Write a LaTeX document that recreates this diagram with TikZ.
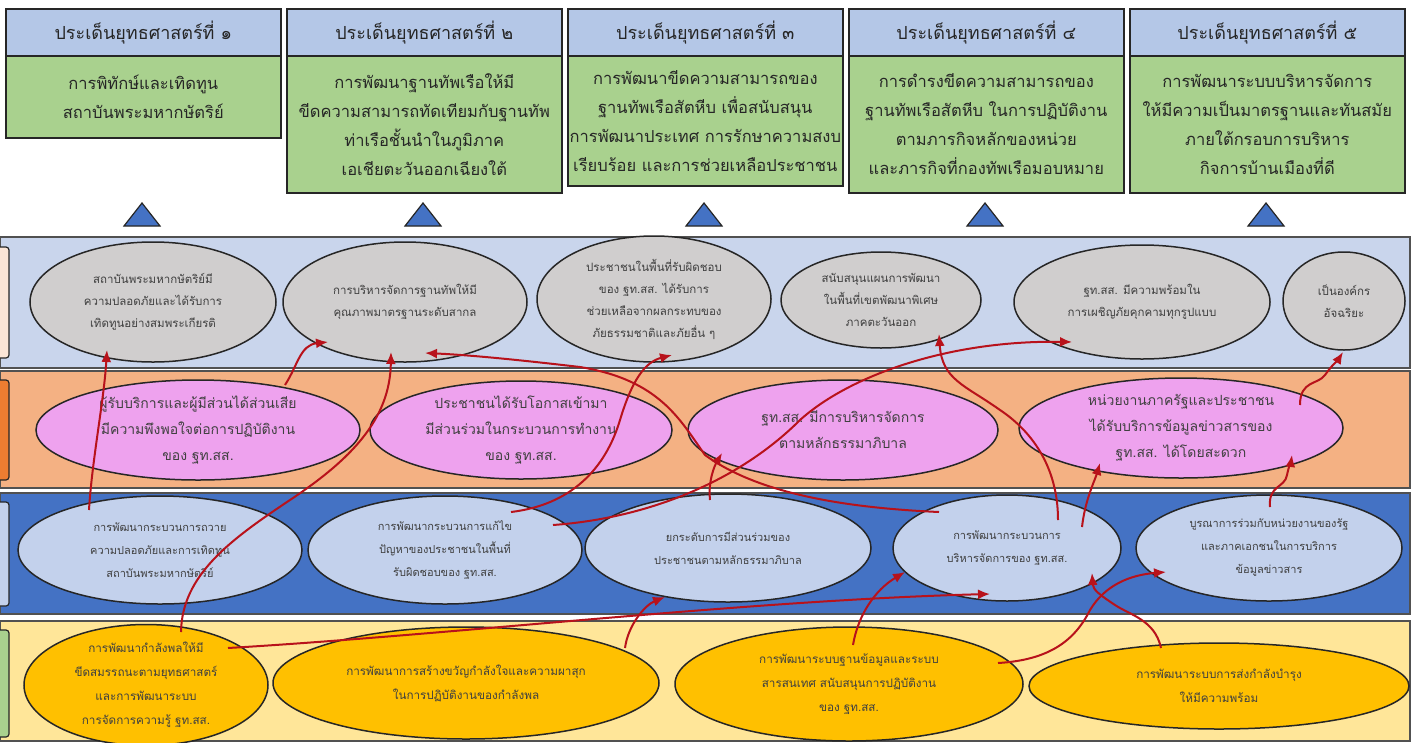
\documentclass[tikz,border=0pt]{standalone}
\usepackage{fontspec}
\newfontfamily\thaifont[Script=Thai]{Loma}
\usetikzlibrary{shapes.geometric,arrows.meta,calc}
\definecolor{hdrblue}{HTML}{B4C7E7}
\definecolor{boxgreen}{HTML}{A9D18E}
\definecolor{bandA}{HTML}{C9D5EC}
\definecolor{bandB}{HTML}{F4B183}
\definecolor{bandC}{HTML}{4472C4}
\definecolor{bandD}{HTML}{FFE699}
\definecolor{tabA}{HTML}{FBE5D6}
\definecolor{tabB}{HTML}{ED7D31}
\definecolor{tabC}{HTML}{C3D1EC}
\definecolor{tabD}{HTML}{A9D18E}
\definecolor{ellA}{HTML}{D0CECE}
\definecolor{ellB}{HTML}{EEA2EE}
\definecolor{ellC}{HTML}{C3D1EC}
\definecolor{ellD}{HTML}{FFC000}
\definecolor{arrred}{HTML}{B8121B}
\definecolor{txtgray}{HTML}{404040}
\definecolor{edge}{HTML}{262626}
\begin{document}
\begin{tikzpicture}[x=1pt,y=-1pt,
  hdr/.style={draw=edge,line width=1.6pt,fill=hdrblue,anchor=north west,minimum width=275pt,minimum height=47pt,inner sep=0pt,font=\thaifont\fontsize{18}{28}\selectfont,text=black!85},
  bodybox/.style={draw=edge,line width=1.6pt,fill=boxgreen,anchor=north west,minimum width=275pt,inner sep=0pt,align=center,font=\thaifont\fontsize{16.5}{29}\selectfont,text=black!85},
  band/.style={draw=edge!80,line width=1.4pt},
  tabbox/.style={draw=edge,line width=1.2pt,rounded corners=3pt},
  ell/.style={ellipse,draw=edge,line width=1.5pt,inner sep=0pt,align=center,text=txtgray},
  eA/.style={ell,fill=ellA,font=\thaifont\fontsize{11.5}{22}\selectfont},
  eB/.style={ell,fill=ellB,font=\thaifont\fontsize{14}{26}\selectfont,text=black!75},
  eC/.style={ell,fill=ellC,font=\thaifont\fontsize{11}{23}\selectfont},
  eD/.style={ell,fill=ellD,font=\thaifont\fontsize{11.7}{24}\selectfont},
  tri/.style={draw=edge,line width=1.2pt,fill=bandC},
  arr/.style={draw=arrred,line width=2pt,-{Latex[length=12pt,width=10pt]}}
]
\useasboundingbox (0,0) rectangle (1412,742);
\fill[white] (0,0) rectangle (1412,742);
% headers
\node[hdr] (h1) at (5,8) {ประเด็นยุทธศาสตร์ที่ ๑};
\node[hdr] (h2) at (286,8) {ประเด็นยุทธศาสตร์ที่ ๒};
\node[hdr] (h3) at (567,8) {ประเด็นยุทธศาสตร์ที่ ๓};
\node[hdr] (h4) at (848,8) {ประเด็นยุทธศาสตร์ที่ ๔};
\node[hdr] (h5) at (1129,8) {ประเด็นยุทธศาสตร์ที่ ๕};
\node[bodybox,minimum height=82pt] (b1) at (5,55) {การพิทักษ์และเทิดทูน\\สถาบันพระมหากษัตริย์};
\node[bodybox,minimum height=137pt] (b2) at (286,55) {การพัฒนาฐานทัพเรือให้มี\\ขีดความสามารถทัดเทียมกับฐานทัพ\\ท่าเรือชั้นนำในภูมิภาค\\เอเชียตะวันออกเฉียงใต้};
\node[bodybox,minimum height=130pt] (b3) at (567,55) {การพัฒนาขีดความสามารถของ\\ฐานทัพเรือสัตหีบ เพื่อสนับสนุน\\การพัฒนาประเทศ การรักษาความสงบ\\เรียบร้อย และการช่วยเหลือประชาชน};
\node[bodybox,minimum height=137pt] (b4) at (848,55) {การดำรงขีดความสามารถของ\\ฐานทัพเรือสัตหีบ ในการปฏิบัติงาน\\ตามภารกิจหลักของหน่วย\\และภารกิจที่กองทัพเรือมอบหมาย};
\node[bodybox,minimum height=137pt] (b5) at (1129,55) {การพัฒนาระบบบริหารจัดการ\\ให้มีความเป็นมาตรฐานและทันสมัย\\ภายใต้กรอบการบริหาร\\กิจการบ้านเมืองที่ดี};
% triangles
\foreach \cx in {142,423,704,985,1266}{
  \draw[tri] (\cx-18,226) -- (\cx+18,226) -- (\cx,203) -- cycle;
}
% bands
\draw[band,fill=bandA] (0,237) rectangle (1410,368);
\draw[band,fill=bandB] (0,371) rectangle (1410,488);
\draw[band,fill=bandC] (0,493) rectangle (1410,614);
\draw[band,fill=bandD] (0,621) rectangle (1410,741);
\draw[tabbox,fill=tabA] (-4,247) rectangle (9,358);
\draw[tabbox,fill=tabB] (-4,380) rectangle (9,480);
\draw[tabbox,fill=tabC] (-4,502) rectangle (9,606);
\draw[tabbox,fill=tabD] (-4,630) rectangle (9,737);
% row 1
\node[eA,minimum width=246pt,minimum height=120pt] (e1a) at (153,302) {สถาบันพระมหากษัตริย์มี\\ความปลอดภัยและได้รับการ\\เทิดทูนอย่างสมพระเกียรติ};
\node[eA,minimum width=244pt,minimum height=120pt] (e1b) at (405,302) {การบริหารจัดการฐานทัพให้มี\\คุณภาพมาตรฐานระดับสากล};
\node[eA,minimum width=234pt,minimum height=126pt] (e1c) at (654,299) {ประชาชนในพื้นที่รับผิดชอบ\\ของ ฐท.สส. ได้รับการ\\ช่วยเหลือจากผลกระทบของ\\ภัยธรรมชาติและภัยอื่น ๆ};
\node[eA,minimum width=200pt,minimum height=96pt] (e1d) at (881,300) {สนับสนุนแผนการพัฒนา\\ในพื้นที่เขตพัฒนาพิเศษ\\ภาคตะวันออก};
\node[eA,minimum width=256pt,minimum height=114pt] (e1e) at (1142,302) {ฐท.สส. มีความพร้อมใน\\การเผชิญภัยคุกคามทุกรูปแบบ};
\node[eA,minimum width=122pt,minimum height=98pt] (e1f) at (1344,301) {เป็นองค์กร\\อัจฉริยะ};
% row 2
\node[eB,minimum width=324pt,minimum height=100pt] (e2a) at (198,430) {ผู้รับบริการและผู้มีส่วนได้ส่วนเสีย\\มีความพึงพอใจต่อการปฏิบัติงาน\\ของ ฐท.สส.};
\node[eB,minimum width=302pt,minimum height=98pt] (e2b) at (521,430) {ประชาชนได้รับโอกาสเข้ามา\\มีส่วนร่วมในกระบวนการทำงาน\\ของ ฐท.สส.};
\node[eB,minimum width=310pt,minimum height=100pt] (e2c) at (843,430) {ฐท.สส. มีการบริหารจัดการ\\ตามหลักธรรมาภิบาล};
\node[eB,minimum width=324pt,minimum height=100pt] (e2d) at (1181,428) {หน่วยงานภาครัฐและประชาชน\\ได้รับบริการข้อมูลข่าวสารของ\\ฐท.สส. ได้โดยสะดวก};
% row 3
\node[eC,minimum width=284pt,minimum height=108pt] (e3a) at (160,550) {การพัฒนากระบวนการถวาย\\ความปลอดภัยและการเทิดทูน\\สถาบันพระมหากษัตริย์};
\node[eC,minimum width=274pt,minimum height=108pt] (e3b) at (445,550) {การพัฒนากระบวนการแก้ไข\\ปัญหาของประชาชนในพื้นที่\\รับผิดชอบของ ฐท.สส.};
\node[eC,minimum width=286pt,minimum height=108pt] (e3c) at (728,548) {ยกระดับการมีส่วนร่วมของ\\ประชาชนตามหลักธรรมาภิบาล};
\node[eC,minimum width=228pt,minimum height=106pt] (e3d) at (1007,548) {การพัฒนากระบวนการ\\บริหารจัดการของ ฐท.สส.};
\node[eC,minimum width=266pt,minimum height=106pt] (e3e) at (1269,548) {บูรณาการร่วมกับหน่วยงานของรัฐ\\และภาคเอกชนในการบริการ\\ข้อมูลข่าวสาร};
% row 4
\node[eD,minimum width=244pt,minimum height=110pt] (e4a) at (146,685) {การพัฒนากำลังพลให้มี\\ขีดสมรรถนะตามยุทธศาสตร์\\และการพัฒนาระบบ\\การจัดการความรู้ ฐท.สส.};
\node[eD,minimum width=386pt,minimum height=112pt] (e4b) at (466,683) {การพัฒนาการสร้างขวัญกำลังใจและความผาสุก\\ในการปฏิบัติงานของกำลังพล};
\node[eD,minimum width=348pt,minimum height=114pt] (e4c) at (849,684) {การพัฒนาระบบฐานข้อมูลและระบบ\\สารสนเทศ สนับสนุนการปฏิบัติงาน\\ของ ฐท.สส.};
\node[eD,minimum width=380pt,minimum height=86pt] (e4d) at (1219,686) {การพัฒนาระบบการส่งกำลังบำรุง\\ให้มีความพร้อม};
% arrows
\draw[arr] ($(e3a)+(-71,-40)$) .. controls (92,460) and (104,400) .. ($(e1a)+(-46,48)$);
\draw[arr] ($(e2a)+(87,-45)$) .. controls (298,365) and (300,345) .. ($(e1b)+(-77,40)$);
\draw[arr] ($(e4a)+(35,-53)$) .. controls (182,575) and (230,540) .. (290,500) .. controls (350,460) and (390,420) .. ($(e1b)+(-14,50)$);
\draw[arr] ($(e3d)+(-68,-36)$) .. controls (850,508) and (760,495) .. (705,455) .. controls (680,420) and (660,380) .. (580,367) .. controls (520,360) and (470,355) .. ($(e1b)+(20,51)$);
\draw[arr] ($(e3b)+(66,-38)$) .. controls (570,505) and (605,470) .. (620,420) .. controls (632,380) and (645,362) .. ($(e1c)+(18,56)$);
\draw[arr] ($(e3b)+(108,-25)$) .. controls (650,518) and (740,480) .. (800,420) .. controls (850,375) and (950,340) .. ($(e1e)+(-70,40)$);
\draw[arr] ($(e3c)+(-18,-48)$) .. controls (708,480) and (715,465) .. ($(e2c)+(-121,23)$);
\draw[arr] ($(e3d)+(51,-28)$) .. controls (1058,465) and (1030,430) .. (1000,410) .. controls (965,385) and (942,380) .. ($(e1d)+(58,34)$);
\draw[arr] ($(e3d)+(75,-21)$) .. controls (1085,500) and (1095,480) .. ($(e2d)+(-81,35)$);
\draw[arr] ($(e3e)+(1,-41)$) .. controls (1268,485) and (1285,488) .. (1287,475) .. controls (1289,465) and (1291,462) .. ($(e2d)+(111,27)$);
\draw[arr] ($(e2d)+(119,-23)$) .. controls (1300,380) and (1318,385) .. (1325,375) .. controls (1332,365) and (1338,360) .. ($(e1f)+(-1,51)$);
\draw[arr] ($(e4a)+(82,-37)$) .. controls (450,635) and (750,600) .. ($(e3d)+(-17,46)$);
\draw[arr] ($(e4b)+(159,-35)$) .. controls (628,625) and (645,605) .. ($(e3c)+(-63,49)$);
\draw[arr] ($(e4c)+(4,-39)$) .. controls (858,615) and (875,590) .. ($(e3d)+(-102,24)$);
\draw[arr] ($(e4c)+(149,-21)$) .. controls (1050,660) and (1075,640) .. (1090,610) .. controls (1105,585) and (1130,575) .. ($(e3e)+(-103,24)$);
\draw[arr] ($(e4d)+(-58,-38)$) .. controls (1155,620) and (1130,615) .. (1115,605) .. controls (1100,595) and (1093,590) .. ($(e3d)+(85,25)$);
\end{tikzpicture}
\end{document}
